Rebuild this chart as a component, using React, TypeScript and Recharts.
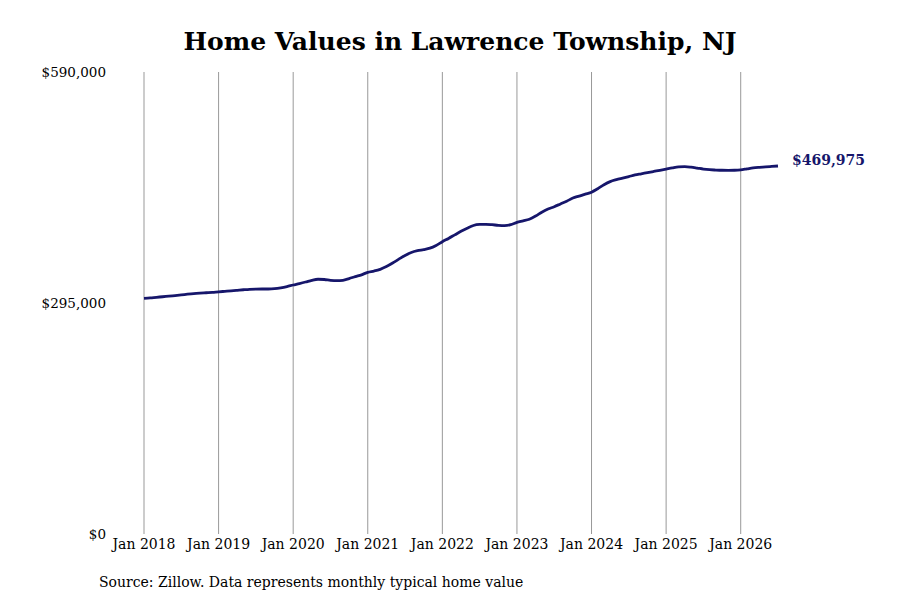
import { LineChart, Line, XAxis, YAxis, CartesianGrid } from 'recharts'

// monthly typical home value, Jan 2018 .. Jul 2026
const startYear = 2018
const values2018 = [301000, 301500, 302300, 303000, 303800, 304500, 305300, 306200, 307000, 307600, 308100, 308600]
const values2019 = [309300, 309900, 310500, 311200, 311900, 312500, 312800, 312900, 312900, 313300, 314400, 316000]
const values2020 = [318000, 319800, 321800, 324000, 325300, 325000, 324000, 323500, 324000, 326200, 328700, 331000]
const values2021 = [334200, 335800, 338000, 341500, 346000, 351000, 355800, 359500, 361800, 363200, 365000, 368500]
const values2022 = [373300, 377500, 382000, 386500, 390500, 394000, 395300, 395500, 395000, 394200, 393800, 395000]
const values2023 = [398000, 399900, 402000, 406000, 411000, 415000, 418000, 421500, 425000, 429000, 431500, 434000]
const values2024 = [436500, 441000, 446000, 450000, 452500, 454500, 456500, 458500, 460000, 461500, 463000, 464500]
const values2025 = [466000, 467500, 468800, 469200, 468500, 467300, 466000, 465200, 464800, 464500, 464400, 464500]
const values2026 = [465000, 466300, 467600, 468300, 468800, 469400, 469975]

const yTicks = [0, 295000, 590000]
const xTickYears = [2018, 2019, 2020, 2021, 2022, 2023, 2024, 2025, 2026]

const allValues = [
  ...values2018, ...values2019, ...values2020, ...values2021, ...values2022,
  ...values2023, ...values2024, ...values2025, ...values2026,
]
const chartData = allValues.map((value, i) => ({ month: i, value }))
const lastIndex = chartData.length - 1
const xTicks = xTickYears.map((y) => (y - startYear) * 12)

const FONT = '"DejaVu Serif", serif'
const NAVY = '#16166b'

function formatMoney(v: number) {
  return `$${v.toLocaleString('en-US')}`
}

function EndLabel(props: any) {
  const { x, y, index } = props
  if (index !== lastIndex) return null
  return (
    <text x={x + 14} y={y} dy={-5} dominantBaseline="middle" fill={NAVY}
      fontFamily={FONT} fontWeight="bold" fontSize={14}>
      {formatMoney(allValues[lastIndex])}
    </text>
  )
}

// only the January lines, no line at the right end of the plot
function gridX({ offset }: any) {
  return xTicks.map((t) => offset.left + (t / lastIndex) * offset.width)
}

export default function App() {
  return (
    <div style={{ position: 'absolute', left: 0, top: 0, width: 900, height: 600, background: '#fff', fontFamily: FONT }}>
      <div style={{ position: 'absolute', top: 27, left: 20, width: 880, textAlign: 'center', fontSize: 25, fontWeight: 'bold', color: '#000' }}>
        Home Values in Lawrence Township, NJ
      </div>
      <LineChart width={900} height={600} data={chartData}
        margin={{ top: 72, right: 122, bottom: 36, left: 44 }}>
        <CartesianGrid horizontal={false} stroke="#999" strokeWidth={1}
          verticalCoordinatesGenerator={gridX} />
        <XAxis dataKey="month" type="number" domain={[0, lastIndex]}
          ticks={xTicks}
          tickFormatter={(m: number) => `Jan ${startYear + m / 12}`}
          axisLine={false} tickLine={false} tickSize={0} tickMargin={5} height={30}
          interval={0}
          tick={{ fill: '#000', fontSize: 14, fontFamily: FONT }} />
        <YAxis type="number" domain={[0, 590000]} ticks={yTicks}
          tickFormatter={formatMoney}
          axisLine={false} tickLine={false} tickSize={0} tickMargin={38} width={100}
          interval={0}
          tick={{ fill: '#000', fontSize: 13.5, fontFamily: FONT }} />
        <Line type="monotone" dataKey="value" stroke={NAVY} strokeWidth={2.8}
          dot={false} isAnimationActive={false} label={<EndLabel />} />
      </LineChart>
      <div style={{ position: 'absolute', top: 574, left: 99, fontSize: 14, color: '#000' }}>
        Source: Zillow. Data represents monthly typical home value
      </div>
    </div>
  )
}
